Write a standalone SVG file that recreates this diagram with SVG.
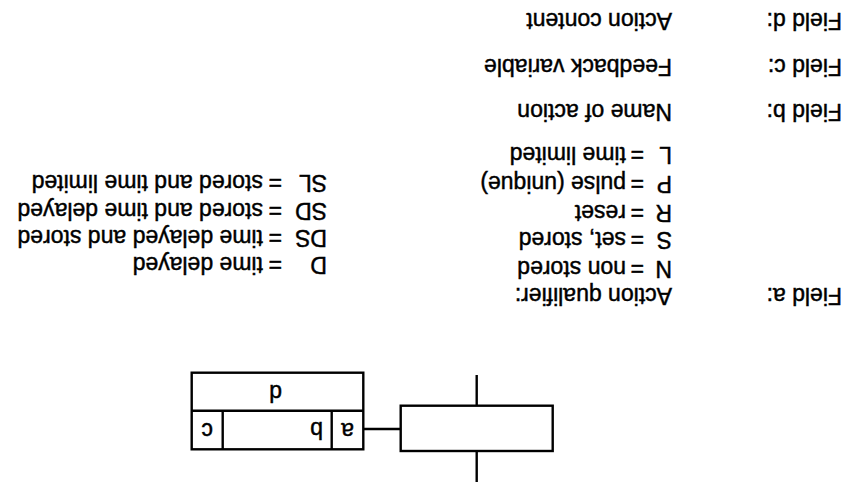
<svg xmlns="http://www.w3.org/2000/svg" width="845" height="482" viewBox="0 0 845 482">
<style>
.t{font-family:"Liberation Sans",Arial,Helvetica,sans-serif;font-size:23px;fill:#000;stroke:#000;stroke-width:0.45}
.ln{stroke:#000;stroke-width:2.4;fill:none}
</style>
<rect width="845" height="482" fill="#fff"/>
<g transform="rotate(180 422.5 241)">
  <g id="connectors">
    <line class="ln" x1="368.3" y1="0" x2="368.3" y2="31"/>
    <line class="ln" x1="368.3" y1="76.3" x2="368.3" y2="107"/>
    <line class="ln" x1="444.3" y1="53" x2="481.7" y2="53"/>
  </g>
  <g id="step">
    <rect class="ln" x="292.3" y="31" width="152" height="45.3"/>
  </g>
  <g id="action-block">
    <rect class="ln" x="481.7" y="32.7" width="171.6" height="76.6"/>
    <line class="ln" x1="481.7" y1="71.3" x2="653.3" y2="71.3"/>
    <line class="ln" x1="513.3" y1="32.7" x2="513.3" y2="71.3"/>
    <line class="ln" x1="622.3" y1="32.7" x2="622.3" y2="71.3"/>
    <text class="t" x="497.5" y="59" text-anchor="middle">a</text>
    <text class="t" x="522" y="60">b</text>
    <text class="t" x="637.8" y="59" text-anchor="middle">c</text>
    <text class="t" x="569.5" y="97" text-anchor="middle">d</text>
  </g>
  <g id="legend-a">
    <text class="t" x="3" y="194.5">Field a:</text>
    <text class="t" x="173" y="194.5">Action qualifier:</text>
    <text class="t" x="173" y="221">N</text><text class="t" x="201" y="221">=</text><text class="t" x="219" y="221">non stored</text>
    <text class="t" x="173" y="250">S</text><text class="t" x="201" y="250">=</text><text class="t" x="219" y="250">set, stored</text>
    <text class="t" x="173" y="277">R</text><text class="t" x="201" y="277">=</text><text class="t" x="219" y="277">reset</text>
    <text class="t" x="173" y="306">P</text><text class="t" x="201" y="306">=</text><text class="t" x="219" y="306">pulse (unique)</text>
    <text class="t" x="173" y="335">L</text><text class="t" x="201" y="335">=</text><text class="t" x="219" y="335">time limited</text>
    <text class="t" x="518" y="225">D</text><text class="t" x="563" y="225">=</text><text class="t" x="582" y="225">time delayed</text>
    <text class="t" x="518" y="252">DS</text><text class="t" x="563" y="252">=</text><text class="t" x="582" y="252">time delayed and stored</text>
    <text class="t" x="518" y="279">SD</text><text class="t" x="563" y="279">=</text><text class="t" x="582" y="279">stored and time delayed</text>
    <text class="t" x="518" y="307">SL</text><text class="t" x="563" y="307">=</text><text class="t" x="582" y="307">stored and time limited</text>
  </g>
  <g id="legend-b">
    <text class="t" x="3" y="378">Field b:</text>
    <text class="t" x="173" y="378">Name of action</text>
  </g>
  <g id="legend-c">
    <text class="t" x="3" y="423">Field c:</text>
    <text class="t" x="173" y="423">Feedback variable</text>
  </g>
  <g id="legend-d">
    <text class="t" x="3" y="469">Field d:</text>
    <text class="t" x="173" y="469">Action content</text>
  </g>
</g>
</svg>
